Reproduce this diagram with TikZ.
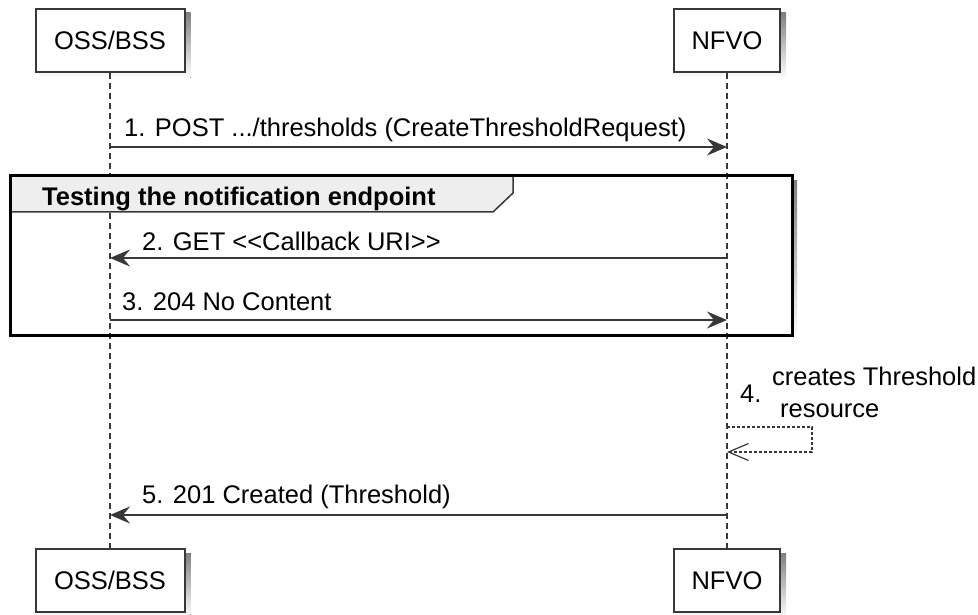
\documentclass[tikz,border=0pt]{standalone}
\usepackage{fontspec}
\setmainfont{Liberation Sans}[Ligatures=TeXOff]
\usetikzlibrary{arrows.meta,backgrounds,calc,positioning}
\definecolor{ink}{HTML}{383838}
\definecolor{hdrgray}{HTML}{EEEEEE}
\definecolor{shade}{HTML}{B0B0B0}

\begin{document}
\begin{tikzpicture}[x=1pt, y=-1pt,
  every node/.style={font=\fontsize{25.5}{31}\selectfont, text=black, inner sep=0pt},
  actor/.style={draw=ink, line width=2pt, fill=white, minimum height=63pt},
  lifeline/.style={draw=ink, line width=1.2pt, dash pattern=on 6pt off 4pt},
  msg/.style={draw=ink, line width=1.6pt, -{Stealth[length=20pt,width=17pt,inset=7pt]}},
  selfmsg/.style={draw=ink, line width=1.2pt, dash pattern=on 3pt off 2pt,
    -{Straight Barb[length=20pt,width=17pt]}},
  lbl/.style={anchor=base west}]
  \useasboundingbox (0,0) rectangle (978,615);

  % participants
  \node[actor, minimum width=149pt] (ossTop) at (110,40.5) {OSS/BSS};
  \node[actor, minimum width=106pt] (nfvoTop) at (727,40.5) {NFVO};
  \node[actor, minimum width=149pt] (ossBot) at (110,580.5) {OSS/BSS};
  \node[actor, minimum width=106pt] (nfvoBot) at (727,580.5) {NFVO};

  % shadows and group frame background
  \begin{scope}[on background layer]
    \foreach \n in {ossTop,nfvoTop,ossBot,nfvoBot}
      \fill[shade] ($(\n.north west)+(5,5)$) rectangle ($(\n.south east)+(5,5)$);
    \fill[shade] (15,181) rectangle (797,340);
    \fill[white] (10,176) rectangle (792,335);
  \end{scope}

  % lifelines
  \draw[lifeline] (ossTop) -- (ossBot);
  \draw[lifeline] (nfvoTop) -- (nfvoBot);

  % group header and frame
  \draw[ink, fill=hdrgray, line width=1.5pt] (10,176) -- (513,176) -- (513,193) -- (493,212) -- (10,212) -- cycle;
  \draw[black, line width=3pt] (10,176) rectangle (792,335);
  \node[lbl, font=\fontsize{25.5}{31}\selectfont\bfseries] (grpTitle) at (42,205) {Testing the notification endpoint};

  % message end points
  \coordinate (m1a) at (110,147); \coordinate (m1b) at (727,147);
  \coordinate (m2a) at (727,258); \coordinate (m2b) at (110,258);
  \coordinate (m3a) at (110,320); \coordinate (m3b) at (727,320);
  \coordinate (m4a) at (727,427); \coordinate (m4b) at (727,452);
  \coordinate (m5a) at (727,515); \coordinate (m5b) at (110,515);

  \draw[msg] (m1a) -- (m1b);
  \node[lbl] (t1) at (124,137) {1. POST .../thresholds (CreateThresholdRequest)};

  \draw[msg] (m2a) -- (m2b);
  \node[lbl] (t2) at (142,250) {2. GET <<Callback URI>>};

  \draw[msg] (m3a) -- (m3b);
  \node[lbl] (t3) at (122,310) {3. 204 No Content};

  \draw[selfmsg] (m4a) -- ++(85,0) |- (m4b);
  \node[lbl] (t4) at (740,402) {4.};
  \node[lbl] (t4a) at (772,385) {creates Threshold};
  \node[lbl] (t4b) at (780,417) {resource};

  \draw[msg] (m5a) -- (m5b);
  \node[lbl] (t5) at (142,503) {5. 201 Created (Threshold)};
\end{tikzpicture}
\end{document}
